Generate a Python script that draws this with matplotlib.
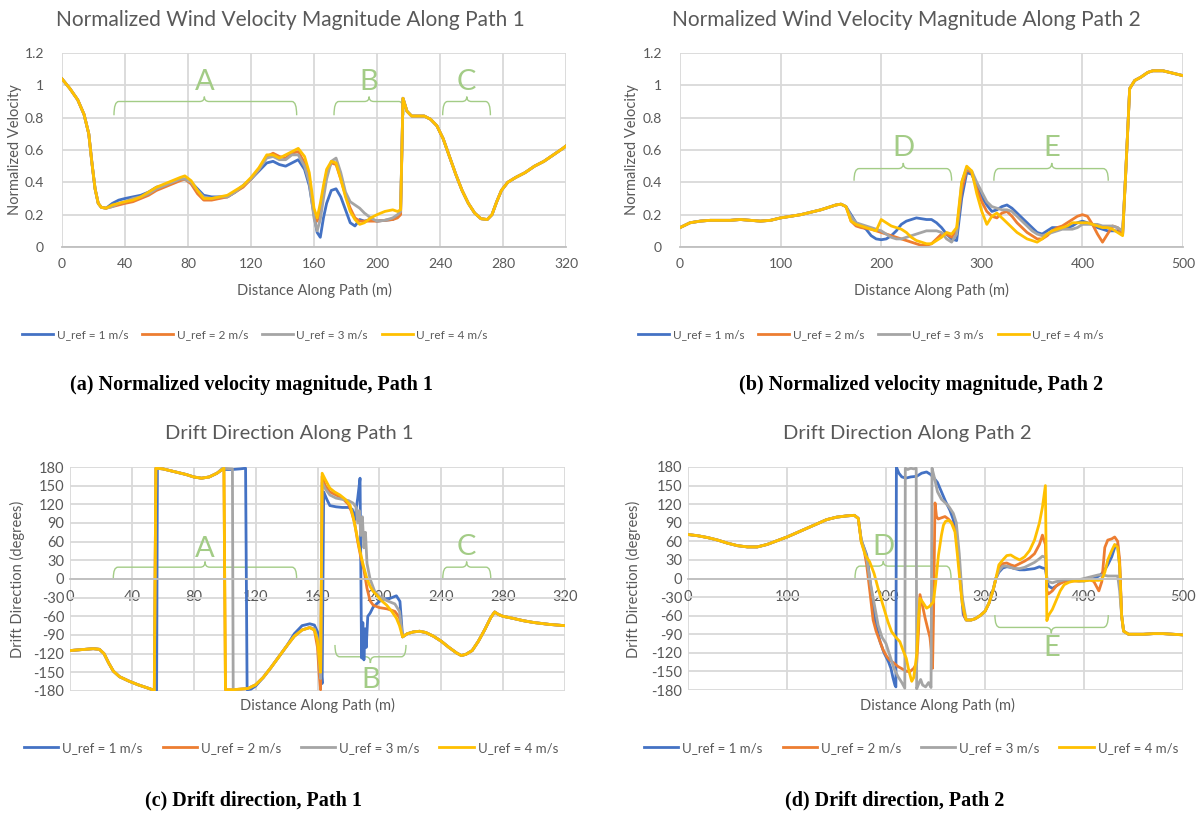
"""
Normalized wind velocity and drift direction along two paths, four reference speeds.
"""

import matplotlib
matplotlib.use("Agg")
import matplotlib.pyplot as plt
from matplotlib.path import Path
from matplotlib.patches import PathPatch

W, H = 1203, 817
plt.rcParams["font.family"] = ["Lato", "DejaVu Sans"]

COLORS = ["#4472C4", "#ED7D31", "#A5A5A5", "#FFC000"]
LABELS = ["U_ref = 1 m/s", "U_ref = 2 m/s", "U_ref = 3 m/s", "U_ref = 4 m/s"]
TEXT = "#595959"
GRID = "#d9d9d9"
BRACE = "#a3cc86"

# ---------------- (a) velocity, path 1 ----------------
a_head_x = [0, 5, 10, 14, 17, 19, 21, 23, 25, 28]
a_head_y = [1.04, 0.98, 0.91, 0.82, 0.70, 0.52, 0.36, 0.27, 0.245, 0.24]
a_body_x = [32, 36, 40, 45, 50, 55, 60, 65, 70, 75, 78, 82, 86, 90, 95, 100, 105, 110,
            115, 120, 125, 130, 134, 138, 142, 146, 150, 154, 157, 160, 162, 164, 166,
            168, 171, 174, 177, 180, 183, 186, 189, 192, 196, 200, 205, 210, 213, 215]
a_u1 = [0.27, 0.29, 0.30, 0.31, 0.32, 0.34, 0.37, 0.38, 0.40, 0.42, 0.42, 0.40, 0.36, 0.32,
        0.31, 0.31, 0.31, 0.34, 0.38, 0.42, 0.47, 0.52, 0.53, 0.51, 0.50, 0.52, 0.54, 0.48,
        0.38, 0.20, 0.09, 0.06, 0.18, 0.27, 0.35, 0.36, 0.31, 0.23, 0.15, 0.13, 0.17, 0.16,
        0.17, 0.16, 0.165, 0.17, 0.19, 0.23]
a_u2 = [0.25, 0.26, 0.27, 0.28, 0.30, 0.32, 0.35, 0.37, 0.39, 0.41, 0.42, 0.39, 0.33, 0.29,
        0.29, 0.30, 0.31, 0.34, 0.37, 0.42, 0.48, 0.56, 0.58, 0.56, 0.55, 0.58, 0.59, 0.52,
        0.42, 0.22, 0.16, 0.22, 0.36, 0.46, 0.52, 0.51, 0.42, 0.32, 0.24, 0.18, 0.16, 0.16,
        0.16, 0.16, 0.165, 0.17, 0.18, 0.20]
a_u3 = [0.25, 0.27, 0.28, 0.30, 0.31, 0.33, 0.36, 0.38, 0.40, 0.42, 0.42, 0.40, 0.35, 0.31,
        0.30, 0.31, 0.31, 0.34, 0.38, 0.42, 0.48, 0.55, 0.56, 0.54, 0.54, 0.57, 0.57, 0.50,
        0.40, 0.18, 0.10, 0.17, 0.30, 0.42, 0.53, 0.55, 0.46, 0.34, 0.28, 0.26, 0.24, 0.21,
        0.18, 0.16, 0.165, 0.18, 0.20, 0.22]
a_u4 = [0.26, 0.27, 0.28, 0.29, 0.31, 0.34, 0.37, 0.39, 0.41, 0.43, 0.44, 0.41, 0.35, 0.30,
        0.30, 0.31, 0.32, 0.35, 0.38, 0.43, 0.49, 0.57, 0.57, 0.55, 0.57, 0.59, 0.61, 0.56,
        0.46, 0.24, 0.18, 0.27, 0.38, 0.48, 0.53, 0.52, 0.42, 0.31, 0.22, 0.17, 0.14, 0.15,
        0.18, 0.20, 0.22, 0.23, 0.22, 0.23]
a_tail_x = [216.5, 219, 222, 226, 230, 234, 238, 242, 246, 250, 254, 258, 262, 266, 270,
            273, 276, 279, 283, 288, 294, 300, 306, 312, 318, 320]
a_tail_y = [0.92, 0.84, 0.81, 0.81, 0.81, 0.79, 0.75, 0.67, 0.56, 0.45, 0.35, 0.27, 0.21,
            0.175, 0.17, 0.20, 0.28, 0.35, 0.40, 0.43, 0.46, 0.50, 0.53, 0.57, 0.61, 0.625]

# ---------------- (b) velocity, path 2 ----------------
b_head_x = [0, 10, 20, 30, 40, 50, 60, 70, 80, 90, 100, 110, 120, 130, 140, 150, 155, 160, 165]
b_head_y = [0.12, 0.15, 0.16, 0.165, 0.165, 0.165, 0.17, 0.165, 0.16, 0.165, 0.18, 0.19,
            0.20, 0.215, 0.23, 0.25, 0.26, 0.265, 0.25]
b_body_x = list(range(170, 445, 5))
b_u1 = [0.20, 0.15, 0.13, 0.11, 0.07, 0.05, 0.045, 0.05, 0.07, 0.10, 0.14, 0.16, 0.17, 0.18,
        0.175, 0.17, 0.17, 0.15, 0.12, 0.08, 0.05, 0.04, 0.30, 0.46, 0.45, 0.38, 0.31, 0.26,
        0.22, 0.23, 0.25, 0.26, 0.24, 0.21, 0.18, 0.15, 0.12, 0.09, 0.08, 0.10, 0.12, 0.12,
        0.12, 0.12, 0.13, 0.15, 0.16, 0.15, 0.14, 0.12, 0.11, 0.10, 0.10, 0.10, 0.08]
b_u2 = [0.16, 0.13, 0.12, 0.115, 0.11, 0.10, 0.09, 0.08, 0.07, 0.06, 0.05, 0.04, 0.03, 0.02,
        0.01, 0.01, 0.02, 0.05, 0.08, 0.08, 0.06, 0.10, 0.35, 0.48, 0.46, 0.36, 0.28, 0.22,
        0.19, 0.18, 0.21, 0.22, 0.19, 0.15, 0.12, 0.09, 0.07, 0.05, 0.05, 0.07, 0.10, 0.12,
        0.13, 0.15, 0.17, 0.19, 0.20, 0.19, 0.14, 0.08, 0.03, 0.08, 0.13, 0.12, 0.08]
b_u3 = [0.19, 0.15, 0.14, 0.13, 0.12, 0.11, 0.10, 0.08, 0.06, 0.05, 0.05, 0.06, 0.07, 0.08,
        0.09, 0.10, 0.10, 0.10, 0.09, 0.05, 0.03, 0.08, 0.40, 0.49, 0.47, 0.40, 0.34, 0.28,
        0.25, 0.24, 0.23, 0.23, 0.22, 0.19, 0.16, 0.13, 0.10, 0.08, 0.07, 0.08, 0.09, 0.10,
        0.11, 0.11, 0.11, 0.12, 0.14, 0.14, 0.14, 0.14, 0.13, 0.13, 0.13, 0.12, 0.10]
b_u4 = [0.16, 0.14, 0.13, 0.12, 0.11, 0.10, 0.17, 0.15, 0.13, 0.12, 0.11, 0.09, 0.06, 0.04,
        0.03, 0.02, 0.02, 0.04, 0.06, 0.09, 0.08, 0.12, 0.40, 0.50, 0.47, 0.33, 0.22, 0.14,
        0.19, 0.21, 0.18, 0.15, 0.12, 0.09, 0.07, 0.05, 0.04, 0.03, 0.05, 0.08, 0.10, 0.11,
        0.12, 0.13, 0.15, 0.15, 0.15, 0.15, 0.14, 0.13, 0.12, 0.12, 0.11, 0.09, 0.07]
b_tail_x = [443, 447, 452, 458, 465, 470, 480, 490, 500]
b_tail_y = [0.45, 0.98, 1.03, 1.05, 1.08, 1.09, 1.09, 1.075, 1.06]

# ---------------- (c) drift direction, path 1 ----------------
c_head_x = [0, 5, 10, 15, 19, 22, 25, 28, 32, 38, 44, 50, 54.5]
c_head_y = [-115, -114, -113, -112, -113, -120, -135, -148, -157, -164, -170, -175, -179]
c_u1_x = [56, 56.5, 60, 65, 70, 75, 80, 85, 90, 95, 98.5, 105, 110, 113.5, 114.5, 117, 120,
          125, 130, 135, 140, 145, 150, 155, 158, 160, 161.5, 163, 164, 166, 168, 172, 176,
          180, 182.5, 184, 186, 187.5, 188.5, 189.3, 190, 190.8, 191.5, 192.5, 194, 196,
          200, 203, 207, 211, 213.3]
c_u1_y = [-179, 178, 177, 174, 171, 168, 164, 162, 164, 170, 176, 176, 177, 178, -178, -177,
          -172, -158, -142, -125, -108, -88, -75, -72, -74, -85, -120, -168, 140, 128, 118,
          116, 115, 115, 112, 95, 130, 162, -127, -70, -130, -80, -110, -60, -55, -45, -36,
          -32, -31, -27, -36]
c_u2_x = [55.5, 60, 65, 70, 75, 80, 85, 90, 95, 99.5, 100.5, 105, 110, 115, 120, 125, 130,
          135, 140, 145, 150, 155, 158, 160, 161, 162, 163, 165, 168, 172, 176, 180, 182,
          184, 186, 188, 190, 192, 194, 196, 200, 205, 210, 213]
c_u2_y = [178, 177, 174, 171, 168, 164, 162, 164, 170, 178, -178, -178, -177, -176, -170,
          -158, -142, -125, -108, -92, -82, -78, -82, -110, -150, -178, 165, 150, 140, 135,
          130, 120, 108, 90, 60, 35, 15, -15, -35, -42, -46, -48, -52, -62]
c_u3_x = [55.5, 60, 65, 70, 75, 80, 85, 90, 95, 98.5, 105, 105.5, 110, 115, 120, 125, 130,
          135, 140, 145, 150, 155, 158, 160, 161, 162, 163, 165, 168, 172, 176, 180, 183,
          185, 186, 187, 188, 189, 190, 191, 192, 194, 197, 200, 205, 210, 213]
c_u3_y = [178, 177, 174, 171, 168, 164, 162, 164, 170, 178, 177, -178, -177, -176, -170,
          -158, -142, -125, -108, -92, -82, -78, -80, -95, -130, -160, 155, 145, 135, 130,
          128, 126, 122, 115, 90, 110, 70, 100, 50, 75, 25, 0, -20, -28, -35, -40, -52]
c_u4_x = [55.5, 60, 65, 70, 75, 80, 85, 90, 95, 99.5, 100.5, 105, 110, 115, 120, 125, 130,
          135, 140, 145, 150, 155, 158, 160, 161, 162, 163, 165, 168, 171, 174.5, 178, 181,
          183, 185, 187, 189.6, 192, 194, 196, 198.3, 201, 204.7, 208, 211, 213]
c_u4_y = [178, 177, 174, 171, 168, 164, 162, 164, 170, 178, -178, -178, -177, -176, -170,
          -158, -142, -125, -108, -92, -82, -78, -82, -100, -125, -150, 170, 160, 146, 140,
          135, 128, 119, 100, 76, 50, 22, 0, -12, -20, -26, -34, -42, -52, -63, -75]
c_tail_x = [215, 218, 222, 226, 230, 235, 240, 245, 250, 253, 256, 260, 264, 268, 272,
            274.5, 277, 280, 286, 293, 300, 310, 320]
c_tail_y = [-93, -88, -85, -84, -86, -92, -100, -110, -119, -123, -121, -115, -100, -82,
            -62, -53, -57, -60, -63, -67, -70, -73, -75]

# ---------------- (d) drift direction, path 2 ----------------
d_head_x = [0, 10, 20, 30, 40, 50, 60, 70, 80, 90, 100, 110, 120, 130, 140, 150, 160, 168, 172]
d_head_y = [71, 69, 66, 62, 57, 53, 51, 51, 55, 61, 67, 74, 81, 88, 95, 99, 101, 102, 97]
d_u1_x = [175, 180.5, 184, 187, 190, 194, 198, 202.4, 205, 207, 209, 210, 210.5, 213, 216,
          220, 225, 231, 236, 241, 245, 248, 252, 256, 260, 264.6, 268, 272, 275, 278]
d_u1_y = [62, 38, -5, -48, -75, -102, -120, -134, -145, -160, -172, -175, 180, 170, 164,
          162, 164, 165, 170, 172, 168, 163, 155, 140, 125, 110, 95, 60, 0, -58]
d_u2_x = [175, 178, 180.5, 184, 187, 190, 194, 197, 200.8, 204, 207.5, 212, 217.6, 221,
          224.4, 228, 231, 233, 234.3, 237, 239.4, 242, 244.4, 246, 247, 248, 249.5, 251,
          252.8, 256, 259.6, 263, 266.4, 270, 273, 276, 279]
d_u2_y = [60, 45, 22, -25, -67, -85, -102, -115, -126, -132, -136, -142, -147, -150, -150,
          -145, -137, -80, -26, -45, -63, -80, -95, -120, -145, -60, 122, 100, 96, 98, 100,
          96, 90, 78, 40, -20, -60]
d_u3_x = [175, 180, 184, 188, 192, 196, 200, 204, 208, 212, 216, 219, 219.5, 222, 225, 228,
          230.5, 231, 233, 235, 237, 240, 243, 245.5, 246.5, 249, 252, 256, 260, 264, 268,
          271, 274, 277]
d_u3_y = [62, 38, -5, -40, -75, -95, -105, -125, -145, -158, -168, -177, 178, 176, 178,
          177, 178, -178, -170, -163, -172, -175, -168, -176, 178, 162, 140, 128, 122, 115,
          105, 90, 40, -30]
d_u4_x = [175, 179, 183.5, 188, 192, 196, 199, 202, 205.7, 210, 214, 217, 220.5, 223, 226,
          228, 231, 233, 234.3, 237, 241, 244, 247.8, 250, 253, 256, 258, 260, 263, 266,
          269.7, 272, 274.7, 277]
d_u4_y = [59, 38, 27, 8, -16, -38, -54, -70, -86, -95, -102, -115, -129, -148, -166, -160,
          -123, -60, -32, -38, -48, -45, -38, -10, 38, 70, 86, 92, 94, 90, 75, 40, -5, -40]
d_mid_x = [281, 286, 290, 295, 300, 304, 308, 311]
d_mid_y = [-67, -67, -65, -60, -53, -40, -20, 0]
d_e_x = [314, 318, 322, 326, 330, 335, 340, 345, 350, 355, 358, 361, 362.5, 364, 368, 372,
         376, 380, 385, 390, 395, 400, 405, 410, 415, 418, 421, 424, 428, 431, 434, 436, 438]
d_e1 = [10, 17, 19, 18, 16, 14, 14, 15, 16, 19, 17, 16, 0, -12, -16, -12, -7, -4, -3, -3,
        -4, -4, -2, 0, 4, 8, 14, 22, 35, 50, 55, 20, -60]
d_e2 = [15, 24, 25, 22, 20, 24, 28, 33, 40, 55, 70, 55, -20, -25, -20, -12, -8, -5, -4, -4,
        -4, -3, -1, -5, -20, -5, 50, 62, 64, 67, 60, 30, -60]
d_e3 = [12, 20, 20, 18, 16, 16, 18, 22, 26, 32, 36, 34, 0, -5, -7, -5, -4, -2, -2, -3, -2,
        0, 2, 4, 6, 5, 5, 4, 4, 4, 4, -20, -60]
d_e4 = [22, 30, 37, 38, 34, 30, 35, 45, 62, 90, 115, 150, -68, -60, -50, -35, -20, -10, -6,
        -4, -4, -4, -3, -3, -3, -2, 10, 30, 45, 55, 50, 20, -60]
d_tail_x = [440, 445, 450, 460, 470, 480, 490, 500]
d_tail_y = [-85, -90, -90, -90, -89, -89, -90, -91]

# braces: label, left, right, tip x, end y, line y, tip y, label y
a_braces = [("A", 33, 149, 90.4, 0.815, 0.90, 0.93, 1.02),
            ("B", 172.7, 217, 195, 0.815, 0.90, 0.93, 1.02),
            ("C", 241.7, 272, 257, 0.815, 0.90, 0.93, 1.02)]
b_braces = [("D", 173, 270, 222, 0.41, 0.485, 0.52, 0.61),
            ("E", 312, 425.7, 369.5, 0.41, 0.485, 0.52, 0.61)]
c_braces = [("A", 28, 146.5, 87.3, 1, 19, 28, 49),
            ("C", 241, 272, 256.4, 1, 19, 28, 51),
            ("B", 171.3, 217.2, 194.2, -106, -125, -135, -162)]
d_braces = [("D", 168.7, 265.7, 197.3, 0.3, 20, 28, 51),
            ("E", 310, 424.5, 367, -59, -79, -88.5, -112)]


def px_axes(fig, left, top, right, bottom):
    return fig.add_axes([left / W, 1 - bottom / H, (right - left) / W, (bottom - top) / H])


def draw_brace(ax, label, x0, x1, xc, y_end, y_line, y_tip, y_lab, r):
    verts = [(x0, y_end), (x0, y_line), (x0 + r, y_line), (xc - r, y_line),
             (xc, y_line), (xc, y_tip), (xc, y_line), (xc + r, y_line),
             (x1 - r, y_line), (x1, y_line), (x1, y_end)]
    codes = [Path.MOVETO, Path.CURVE3, Path.CURVE3, Path.LINETO, Path.CURVE3, Path.CURVE3,
             Path.CURVE3, Path.CURVE3, Path.LINETO, Path.CURVE3, Path.CURVE3]
    ax.add_patch(PathPatch(Path(verts, codes), fc="none", ec=BRACE, lw=1.0, zorder=1.5))
    ax.text(xc, y_lab, label, color=BRACE, fontsize=21,
            ha="center", va="center", zorder=1.5)


def style_axes(ax, xmax, xstep, ylim, yticks, ylabels, ytick_pad, labelsize,
               xlabel_y_px, center_px):
    ax.set_xlim(0, xmax)
    ax.set_ylim(*ylim)
    ax.set_xticks(range(0, xmax + 1, xstep))
    ax.set_yticks(yticks)
    ax.set_yticklabels(ylabels)
    ax.grid(True, color=GRID, lw=1.3)
    ax.set_axisbelow(True)
    for side in ("top", "right", "left"):
        ax.spines[side].set_visible(False)
    ax.spines["bottom"].set_color("#bfbfbf")
    ax.spines["bottom"].set_linewidth(1.3)
    ax.tick_params(length=0, colors=TEXT, labelsize=labelsize)
    ax.tick_params(axis="y", pad=ytick_pad)
    ax.tick_params(axis="x", pad=8)
    fig.text(center_px / W, 1 - xlabel_y_px / H, "Distance Along Path (m)",
             color=TEXT, fontsize=10.5, ha="center", va="center")


def plot_series(ax, xs, ys):
    for x, y, c, lab in zip(xs, ys, COLORS, LABELS):
        ax.plot(x, y, color=c, lw=2.0, label=lab, solid_joinstyle="round", zorder=2)


fig = plt.figure(figsize=(W / 100, H / 100), dpi=100)
fig.patch.set_facecolor("white")

vel_ticks = [0, 0.2, 0.4, 0.6, 0.8, 1.0, 1.2]
vel_labels = ["0", "0.2", "0.4", "0.6", "0.8", "1", "1.2"]
deg_ticks = list(range(-180, 181, 30))
deg_labels = [str(t) for t in deg_ticks]

# (a)
ax_a = px_axes(fig, 62, 53, 566, 247)
plot_series(ax_a,
            [a_head_x + a_body_x + a_tail_x] * 4,
            [a_head_y + u + a_tail_y for u in (a_u1, a_u2, a_u3, a_u4)])
style_axes(ax_a, 320, 40, (0, 1.2), vel_ticks, vel_labels, 13, 10, 290, 314)
for br in a_braces:
    draw_brace(ax_a, *br, r=3)

# (b)
ax_b = px_axes(fig, 680, 53, 1183, 247)
plot_series(ax_b,
            [b_head_x + b_body_x + b_tail_x] * 4,
            [b_head_y + u + b_tail_y for u in (b_u1, b_u2, b_u3, b_u4)])
style_axes(ax_b, 500, 100, (0, 1.2), vel_ticks, vel_labels, 13, 10, 290, 931)
for br in b_braces:
    draw_brace(ax_b, *br, r=5)

# (c)
ax_c = px_axes(fig, 70, 467, 565, 691)
plot_series(ax_c,
            [c_head_x + x + c_tail_x for x in (c_u1_x, c_u2_x, c_u3_x, c_u4_x)],
            [c_head_y + y + c_tail_y for y in (c_u1_y, c_u2_y, c_u3_y, c_u4_y)])
style_axes(ax_c, 320, 40, (-180, 180), deg_ticks, deg_labels, 4, 10.5, 705, 317)
ax_c.spines["bottom"].set_position(("data", 0))
for br in c_braces:
    draw_brace(ax_c, *br, r=3)

# (d)
ax_d = px_axes(fig, 688, 467, 1183, 690)
plot_series(ax_d,
            [d_head_x + x + d_mid_x + d_e_x + d_tail_x
             for x in (d_u1_x, d_u2_x, d_u3_x, d_u4_x)],
            [d_head_y + y + d_mid_y + e + d_tail_y
             for y, e in zip((d_u1_y, d_u2_y, d_u3_y, d_u4_y), (d_e1, d_e2, d_e3, d_e4))])
style_axes(ax_d, 500, 100, (-180, 180), deg_ticks, deg_labels, 4, 10.5, 705, 937)
ax_d.spines["bottom"].set_position(("data", 0))
for br in d_braces:
    draw_brace(ax_d, *br, r=5)

# titles, y labels
titles = [("Normalized Wind Velocity Magnitude Along Path 1", 290, 20, 15),
          ("Normalized Wind Velocity Magnitude Along Path 2", 906, 20, 15),
          ("Drift Direction Along Path 1", 289, 433, 14.5),
          ("Drift Direction Along Path 2", 907, 433, 14.5)]
for txt, x, y, fs in titles:
    fig.text(x / W, 1 - y / H, txt, color=TEXT, fontsize=fs, ha="center", va="center")

ylabels = [("Normalized Velocity", 15, 150), ("Normalized Velocity", 632, 150),
           ("Drift Direction (degrees)", 17, 579), ("Drift Direction (degrees)", 633, 579)]
for txt, x, y in ylabels:
    fig.text(x / W, 1 - y / H, txt, color=TEXT, fontsize=10.5, rotation=90,
             ha="center", va="center")

# legends
handles, _ = ax_a.get_legend_handles_labels()
legend_pos = [(255, 335, 8.5, 1.2), (871, 335, 8.5, 1.2),
              (291, 748, 9.5, 1.5), (911, 748, 9.5, 1.5)]
for x, y, fs, cs in legend_pos:
    leg = fig.legend(handles, LABELS, loc="center", bbox_to_anchor=(x / W, 1 - y / H),
                     ncol=4, frameon=False, fontsize=fs, handlelength=2.6,
                     handletextpad=0.3, columnspacing=cs)
    for t in leg.get_texts():
        t.set_color(TEXT)

# captions
captions = [("(a) Normalized velocity magnitude, Path 1", 251, 385),
            ("(b) Normalized velocity magnitude, Path 2", 921, 385),
            ("(c) Drift direction, Path 1", 253, 800),
            ("(d) Drift direction, Path 2", 895, 800)]
for txt, x, y in captions:
    fig.text(x / W, 1 - y / H, txt, family="Liberation Serif", fontweight="bold",
             fontsize=14.5, ha="center", va="center", color="black")

fig.savefig("out.png", dpi=100)
